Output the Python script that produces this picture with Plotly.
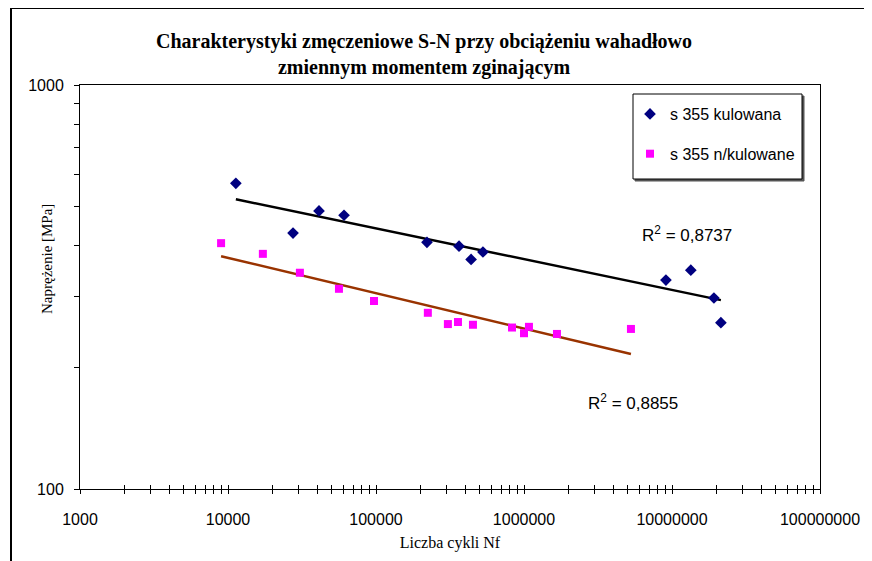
import numpy as np
import plotly.graph_objects as go

# ---- data ----
kul_cycles = [11300, 27500, 41200, 60800, 221000, 364000, 439000, 528000,
              9100000, 13400000, 19200000, 21400000]
kul_stress = [571, 430, 488, 476, 408, 399, 370, 386, 329, 348, 297, 258]

nkul_cycles = [8980, 17200, 30600, 56200, 96900, 224000, 306000, 358000,
               452000, 830000, 1000000, 1080000, 1670000, 5280000]
nkul_stress = [406, 382, 343, 313, 292, 273, 256, 259, 255, 251, 243, 252,
               242, 249]

series_names = ["s 355 kulowana", "s 355 n/kulowane"]
r2_labels = ["R<sup>2</sup> = 0,8737", "R<sup>2</sup> = 0,8855"]

x_tick_labels = ["1000", "10000", "100000", "1000000", "10000000", "100000000"]
y_tick_labels = ["100", "1000"]

title_text = ("Charakterystyki zmęczeniowe S-N przy obciążeniu wahadłowo<br>"
              "zmiennym momentem zginającym")
x_title = "Liczba cykli Nf"
y_title = "Naprężenie [MPa]"


def power_fit(xs, ys):
    lx, ly = np.log10(xs), np.log10(ys)
    m, b = np.polyfit(lx, ly, 1)
    xl = np.logspace(lx.min(), lx.max(), 40)
    return xl, 10 ** (b + m * np.log10(xl))


# tick positions (log axes): decades labelled, 2..9 unlabeled
xtv, xtt = [], []
for i, lab in enumerate(x_tick_labels):
    d = 10 ** (3 + i)
    xtv.append(d)
    xtt.append(lab)
    if i < len(x_tick_labels) - 1:
        for k in range(2, 10):
            xtv.append(k * d)
            xtt.append("")
ytv, ytt = [], []
for k in range(1, 11):
    ytv.append(100 * k)
    ytt.append(y_tick_labels[0] if k == 1 else (y_tick_labels[1] if k == 10 else ""))

fig = go.Figure()

fx, fy = power_fit(kul_cycles, kul_stress)
fig.add_trace(go.Scatter(x=fx, y=fy, mode="lines", line=dict(color="#000000", width=2.5),
                         showlegend=False, hoverinfo="skip"))
fx2, fy2 = power_fit(nkul_cycles, nkul_stress)
fig.add_trace(go.Scatter(x=fx2, y=fy2, mode="lines", line=dict(color="#993300", width=2.5),
                         showlegend=False, hoverinfo="skip"))

fig.add_trace(go.Scatter(x=kul_cycles, y=kul_stress, mode="markers", name=series_names[0],
                         legendgroup="a",
                         marker=dict(symbol="diamond", size=9, color="#000080")))
fig.add_trace(go.Scatter(x=nkul_cycles, y=nkul_stress, mode="markers", name=series_names[1],
                         legendgroup="b",
                         marker=dict(symbol="square", size=8, color="#FF00FF")))
# empty trace to register the overlay axis used for crossing ticks
fig.add_trace(go.Scatter(x=[], y=[], xaxis="x2", showlegend=False, hoverinfo="skip"))

tickfont = dict(family="Liberation Sans", size=16, color="#000000")

# page body has an 8px margin: figure is 8px smaller and margins reduced by 8
fig.update_layout(
    width=864, height=553,
    margin=dict(l=72, r=52, t=77, b=72, autoexpand=False),
    paper_bgcolor="white", plot_bgcolor="white",
    title=dict(text=title_text, x=(424 - 8) / 864, xanchor="center", xref="container",
               y=1 - 40 / 553, yanchor="top", yref="container",
               font=dict(family="Liberation Serif", size=20, color="#000000", weight="bold")),
    xaxis=dict(type="log", range=[3, 8], tickmode="array", tickvals=xtv, ticktext=xtt,
               ticks="outside", ticklen=4, tickcolor="black", tickwidth=1, automargin=False,
               showline=True, linecolor="black", linewidth=1, mirror=True,
               showgrid=False, zeroline=False, tickfont=tickfont, ticklabelstandoff=12,
               title=dict(text=x_title, standoff=9,
                          font=dict(family="Liberation Serif", size=16, color="#000000"))),
    xaxis2=dict(type="log", range=[3, 8], overlaying="x", anchor="y", side="bottom",
                tickmode="array", tickvals=xtv, ticktext=[""] * len(xtv), automargin=False,
                ticks="inside", ticklen=4, tickcolor="black", tickwidth=1,
                showline=False, showgrid=False, zeroline=False, showticklabels=False),
    yaxis=dict(type="log", range=[2, 3], tickmode="array", tickvals=ytv, ticktext=ytt,
               ticks="outside", ticklen=5, tickcolor="black", tickwidth=1, automargin=False,
               showline=True, linecolor="black", linewidth=1, mirror=True,
               showgrid=False, zeroline=False, tickfont=tickfont, ticklabelstandoff=7),
    legend=dict(x=(630 - 80) / 740, y=(489 - 97) / 404, xanchor="left", yanchor="top",
                borderwidth=0, bgcolor="rgba(0,0,0,0)",
                font=dict(family="Liberation Sans", size=16, color="#000000"),
                traceorder="grouped", tracegroupgap=16),
    showlegend=True,
)

fig.add_annotation(text=y_title, textangle=-90, xref="paper", yref="paper",
                   x=(47 - 80) / 740, y=(489 - 259) / 404, xanchor="center", yanchor="middle",
                   showarrow=False,
                   font=dict(family="Liberation Serif", size=15, color="#000000"))
fig.add_annotation(text=r2_labels[0], xref="paper", yref="paper",
                   x=(687 - 80) / 740, y=(489 - 234) / 404, xanchor="center", yanchor="middle",
                   showarrow=False,
                   font=dict(family="Liberation Sans", size=17, color="#000000"))
fig.add_annotation(text=r2_labels[1], xref="paper", yref="paper",
                   x=(633 - 80) / 740, y=(489 - 402) / 404, xanchor="center", yanchor="middle",
                   showarrow=False,
                   font=dict(family="Liberation Sans", size=17, color="#000000"))

# legend frame (with slight shadow) drawn as decoration around the legend
fig.add_shape(type="rect", xref="paper", yref="paper",
              x0=(635 - 80) / 740, x1=(804 - 80) / 740,
              y0=(489 - 181) / 404, y1=(489 - 96) / 404,
              line=dict(color="#555555", width=1), fillcolor="#555555", layer="above")
fig.add_shape(type="rect", xref="paper", yref="paper",
              x0=(633 - 80) / 740, x1=(802 - 80) / 740,
              y0=(489 - 179) / 404, y1=(489 - 94) / 404,
              line=dict(color="black", width=1), fillcolor="white", layer="above")

# outer chart frame (cropped at right and bottom in the reference)
fig.add_shape(type="rect", xref="paper", yref="paper",
              x0=(11 - 80) / 740, x1=(900 - 80) / 740,
              y0=(489 - 600) / 404, y1=(489 - 8) / 404,
              line=dict(color="black", width=2), fillcolor="rgba(0,0,0,0)", layer="below")

fig.write_html("out.html")
